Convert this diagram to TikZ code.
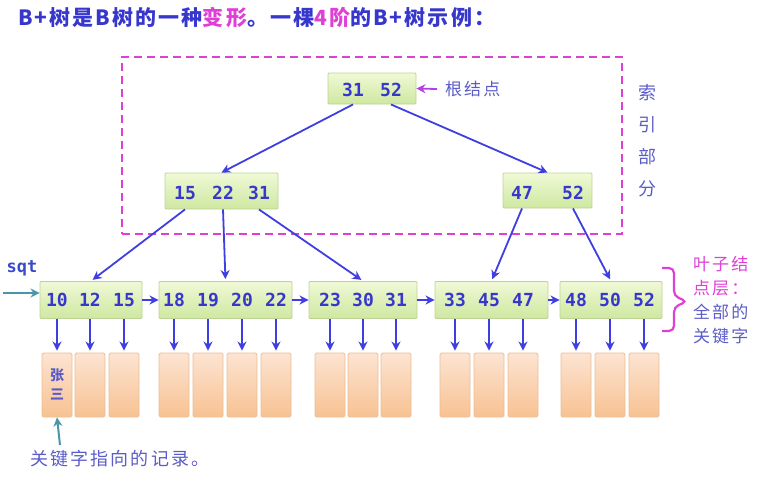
\documentclass[tikz,border=0pt]{standalone}
\usepackage{fontspec}
\newfontfamily\cjk{Noto Sans CJK SC}
\newfontfamily\cjks[LetterSpace=12]{Noto Sans CJK SC}
\newfontfamily\cjkt[LetterSpace=10]{Noto Sans CJK SC}
\newfontfamily\mono{DejaVu Sans Mono}
\usetikzlibrary{arrows.meta}
\definecolor{tblue}{RGB}{55,55,205}
\definecolor{ablue}{RGB}{62,62,225}
\definecolor{lblue}{RGB}{92,92,200}
\definecolor{mag}{RGB}{222,64,214}
\definecolor{pur}{RGB}{176,64,228}
\definecolor{sqtcol}{RGB}{72,150,168}
\definecolor{gtop}{RGB}{240,249,214}
\definecolor{gbot}{RGB}{206,232,160}
\definecolor{gbord}{RGB}{190,210,150}
\definecolor{otop}{RGB}{252,228,210}
\definecolor{obot}{RGB}{248,194,146}
\definecolor{obord}{RGB}{236,190,150}
\begin{document}
\begin{tikzpicture}[x=1pt,y=-1pt,
  keynode/.style={font=\mono\bfseries\fontsize{18}{18}\selectfont, text=tblue, inner sep=0pt},
  treebox/.style={draw=gbord, line width=0.9pt, top color=gtop, bottom color=gbot, inner sep=0pt, rounded corners=1pt},
  rec/.style={draw=obord, line width=0.9pt, top color=otop, bottom color=obot, minimum width=30pt, minimum height=64pt, inner sep=0pt, rounded corners=1.5pt},
  arr/.style={draw=ablue, line width=1.8pt, -{Stealth[length=9pt,width=9pt]}},
  cjklabel/.style={font=\cjks\fontsize{17}{24}\selectfont, text=lblue, inner sep=0pt},
]
\useasboundingbox (0,0) rectangle (761,480);

% title
\node[anchor=west, inner sep=0pt, font=\cjkt\bfseries\fontsize{21}{21}\selectfont, text=tblue] (title) at (18,17)
  {B+树是B树的一种\textcolor{mag}{变形}。一棵\textcolor{mag}{4阶}的B+树示例：};

% index region
\node[draw=mag, line width=2.4pt, dash pattern=on 8pt off 5pt, minimum width=500pt, minimum height=177pt, inner sep=0pt] (idx) at (372,145.5) {};
\node[align=center, font=\cjk\fontsize{18}{32}\selectfont, text=lblue, inner sep=0pt] (idxlabel) at (647,141) {索\\引\\部\\分};

% root
\node[treebox, minimum width=88pt, minimum height=31pt] (R) at (372,88.5) {};
\node[keynode] (r31) at (353,90) {31};
\node[keynode] (r52) at (391,90) {52};
\node[cjklabel, anchor=west, font=\cjks\fontsize{17}{17}\selectfont] (rootlabel) at (445,89) {根结点};
\draw[pur, line width=1.8pt, -{Stealth[length=9pt,width=9pt]}] (rootlabel.west) ++(-8,0) coordinate (ra) (ra) -- (R.east);

% level 2
\node[treebox, minimum width=113pt, minimum height=36pt] (N1) at (221.5,191) {};
\node[keynode] (n15) at (185,193) {15};
\node[keynode] (n22) at (223,193) {22};
\node[keynode] (n31) at (259,193) {31};
\node[treebox, minimum width=89pt, minimum height=35pt] (N2) at (547.5,190.5) {};
\node[keynode] (n47) at (522,193) {47};
\node[keynode] (n52) at (573,193) {52};

\draw[arr] (r31 |- R.south) -- (N1.north);
\draw[arr] (r52 |- R.south) -- (N2.north);

% leaves
\node[treebox, minimum width=102pt, minimum height=37pt] (L1) at (91,300) {};
\node[treebox, minimum width=133pt, minimum height=37pt] (L2) at (225.5,300) {};
\node[treebox, minimum width=108pt, minimum height=37pt] (L3) at (363,300) {};
\node[treebox, minimum width=113pt, minimum height=37pt] (L4) at (491.5,300) {};
\node[treebox, minimum width=102pt, minimum height=37pt] (L5) at (611,300) {};

\draw[arr, shorten >=2pt] (n15 |- N1.south) -- (L1.north);
\draw[arr, shorten >=2pt] (n22 |- N1.south) -- (L2.north);
\draw[arr, shorten >=2pt] (n31 |- N1.south) -- (L3.north);
\draw[arr, shorten >=2pt] (n47 |- N2.south) -- (L4.north);
\draw[arr, shorten >=2pt] (n52 |- N2.south) -- (L5.north);

\draw[arr] (L1.east) -- (L2.west);
\draw[arr] (L2.east) -- (L3.west);
\draw[arr] (L3.east) -- (L4.west);
\draw[arr] (L4.east) -- (L5.west);

% keys and records
\foreach \k/\x/\L in {10/57/L1,12/90/L1,15/124/L1,18/174/L2,19/208/L2,20/242/L2,22/276/L2,23/330/L3,30/363/L3,31/396/L3,33/455/L4,45/489/L4,47/523/L4,48/576/L5,50/610/L5,52/644/L5}{
  \node[keynode] (k\k) at (\x,300) {\k};
  \node[rec] (rec\k) at (\x,385) {};
  \draw[arr, shorten >=2pt] (k\k |- \L.south) -- (rec\k.north);
}
\node[align=center, font=\cjk\bfseries\fontsize{14}{19}\selectfont, text=lblue, inner sep=0pt] (zs) at (57,384) {张\\三};

% sqt
\node[font=\mono\bfseries\fontsize{17}{17}\selectfont, text=tblue!80!sqtcol, inner sep=0pt] (sqt) at (22,268) {sqt};
\coordinate (s0) at (3,293);
\draw[sqtcol, line width=2pt, -{Stealth[length=9pt,width=9pt]}] (s0) -- (s0 -| L1.west);

% record note
\node[cjklabel, anchor=west, font=\cjks\fontsize{18}{18}\selectfont] (note) at (30,459) {关键字指向的记录。};
\coordinate (n0) at (60,445);
\draw[sqtcol, line width=2pt, -{Stealth[length=9pt,width=9pt]}] (n0) -- (rec10.south);

% leaf layer brace and label
\draw[mag, line width=2.2pt, rounded corners=5pt]
  (662,268) -- (674,268) -- (674,296) -- (687,301.5) -- (674,307) -- (674,331) -- (662,331);
\node[cjklabel, anchor=north west, align=left] (leafnote) at (693,256)
  {\textcolor{mag}{叶子结}\\\textcolor{mag}{点层：}\\全部的\\关键字};
\end{tikzpicture}
\end{document}
